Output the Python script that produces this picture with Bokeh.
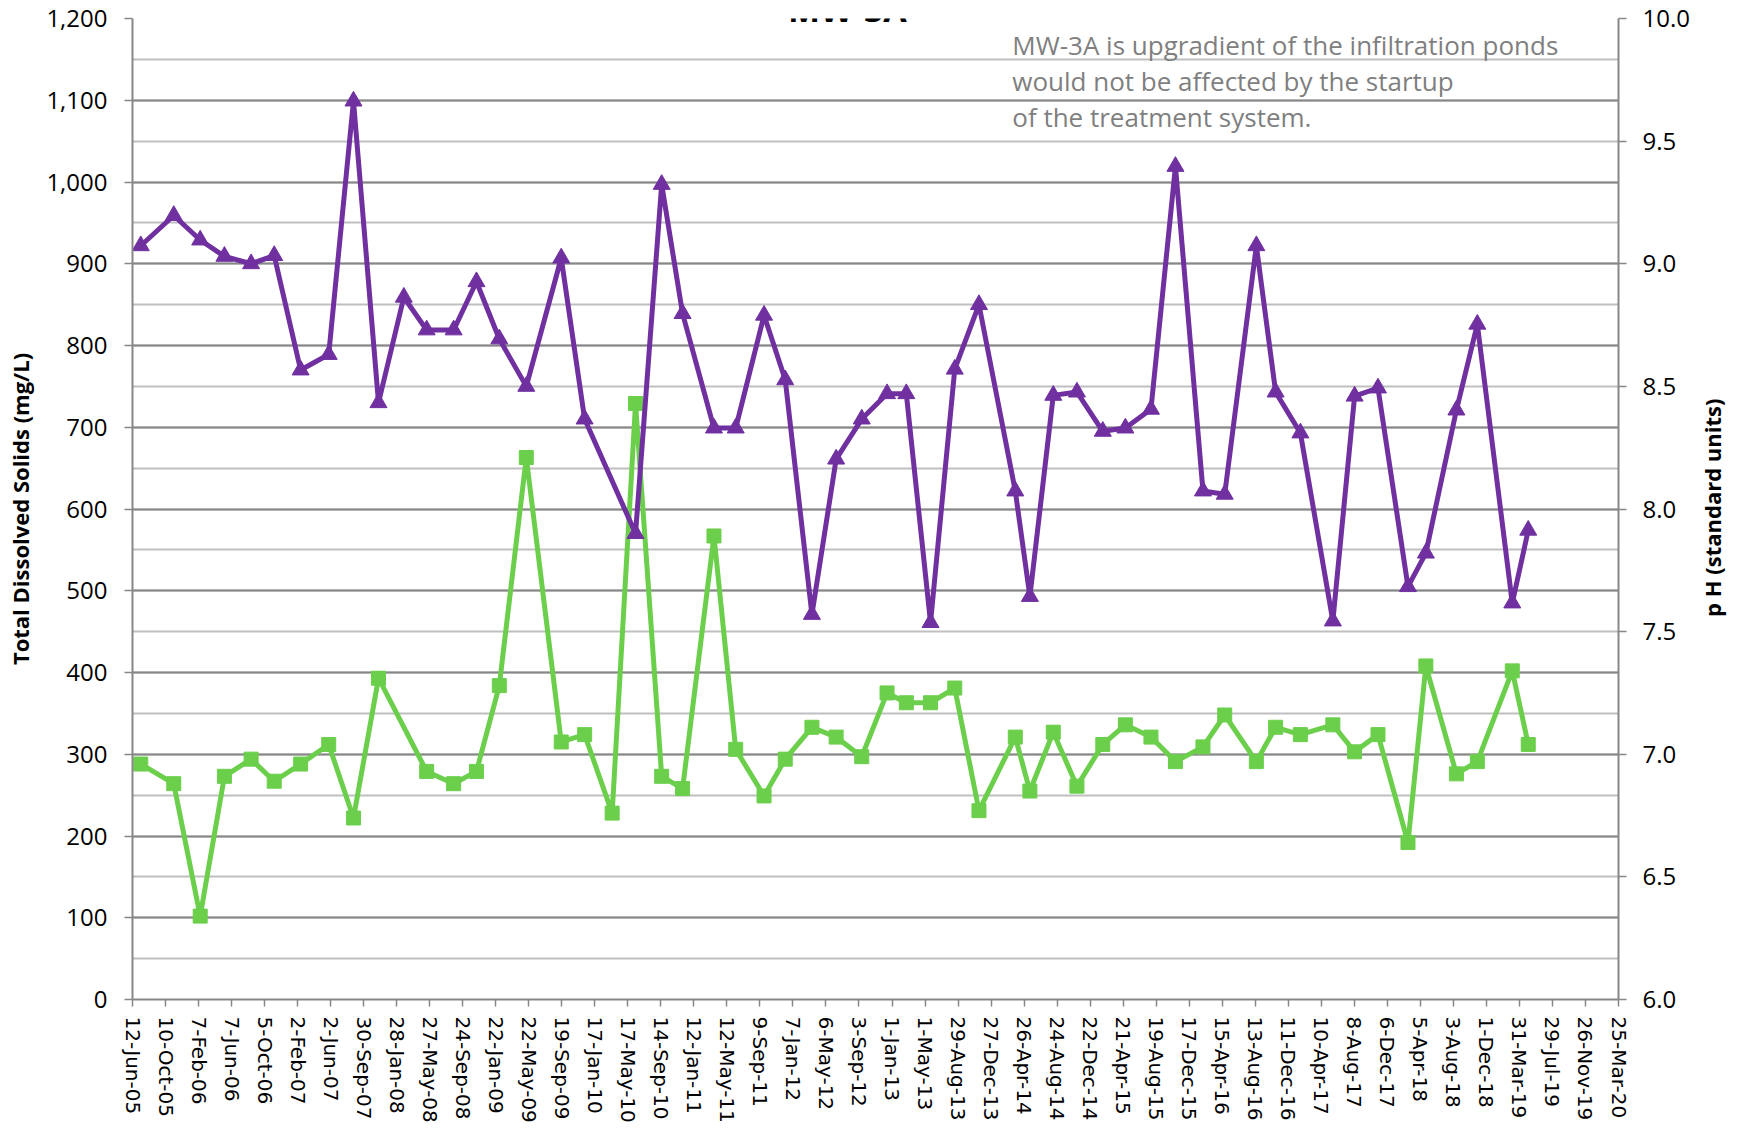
import math
import pandas as pd
from bokeh.plotting import figure
from bokeh.models import (Range1d, LinearAxis, FixedTicker, SingleIntervalTicker,
                          NumeralTickFormatter, Label)
from bokeh.embed import file_html
from bokeh.resources import INLINE

# ---------------- data ----------------
title_text = "MW-3A"
note_lines = [
    "MW-3A is upgradient of the infiltration ponds",
    "would not be affected by the startup",
    "of the treatment system.",
]
left_label = "Total Dissolved Solids (mg/L)"
right_label = "p H (standard units)"

tick_labels = [
    "12-Jun-05", "10-Oct-05", "7-Feb-06", "7-Jun-06", "5-Oct-06", "2-Feb-07",
    "2-Jun-07", "30-Sep-07", "28-Jan-08", "27-May-08", "24-Sep-08", "22-Jan-09",
    "22-May-09", "19-Sep-09", "17-Jan-10", "17-May-10", "14-Sep-10", "12-Jan-11",
    "12-May-11", "9-Sep-11", "7-Jan-12", "6-May-12", "3-Sep-12", "1-Jan-13",
    "1-May-13", "29-Aug-13", "27-Dec-13", "26-Apr-14", "24-Aug-14", "22-Dec-14",
    "21-Apr-15", "19-Aug-15", "17-Dec-15", "15-Apr-16", "13-Aug-16", "11-Dec-16",
    "10-Apr-17", "8-Aug-17", "6-Dec-17", "5-Apr-18", "3-Aug-18", "1-Dec-18",
    "31-Mar-19", "29-Jul-19", "26-Nov-19", "25-Mar-20",
]

tds_dates = [
    "2005-07-12", "2005-11-09", "2006-02-13", "2006-05-12", "2006-08-17", "2006-11-09",
    "2007-02-13", "2007-05-26", "2007-08-24", "2007-11-23", "2008-02-23", "2008-05-16",
    "2008-08-22", "2008-11-13", "2009-02-04", "2009-05-13", "2009-09-17", "2009-12-11",
    "2010-06-14", "2010-09-17", "2010-12-02", "2011-03-26", "2011-06-13", "2011-09-24",
    "2011-12-10", "2012-03-16", "2012-06-12", "2012-09-13", "2012-12-14", "2013-02-22",
    "2013-05-21", "2013-08-17", "2013-11-13", "2014-03-25", "2014-05-17", "2014-08-10",
    "2014-11-04", "2015-02-06", "2015-04-29", "2015-07-31", "2015-10-28", "2016-02-05",
    "2016-04-24", "2016-08-17", "2016-10-26", "2017-01-24", "2017-05-22", "2017-08-09",
    "2017-11-02", "2018-02-19", "2018-04-25", "2018-08-14", "2018-10-29", "2019-03-05",
    "2019-05-02",
]
tds_values = [
    922, 959, 929, 909, 900, 910, 770, 789, 1099, 730, 859, 819,
    819, 878, 808, 750, 907, 710, 570, 997, 839, 699, 699, 837,
    758, 471, 661, 710, 741, 741, 461, 771, 850, 622, 493, 739,
    743, 695, 699, 722, 1019, 622, 618, 922, 743, 693, 463, 738,
    748, 505, 546, 721, 826, 485, 574,
]

ph_dates = [
    "2005-07-12", "2005-11-09", "2006-02-13", "2006-05-12", "2006-08-17", "2006-11-09",
    "2007-02-13", "2007-05-26", "2007-08-24", "2007-11-23", "2008-05-16",
    "2008-08-22", "2008-11-13", "2009-02-04", "2009-05-13", "2009-09-17", "2009-12-11",
    "2010-03-21", "2010-06-14", "2010-09-17", "2010-12-02", "2011-03-26", "2011-06-13",
    "2011-09-24", "2011-12-10", "2012-03-16", "2012-06-12", "2012-09-13", "2012-12-14",
    "2013-02-22", "2013-05-21", "2013-08-17", "2013-11-13", "2014-03-25", "2014-05-17",
    "2014-08-10", "2014-11-04", "2015-02-06", "2015-04-29", "2015-07-31", "2015-10-28",
    "2016-02-05", "2016-04-24", "2016-08-17", "2016-10-26", "2017-01-24", "2017-05-22",
    "2017-08-09", "2017-11-02", "2018-02-19", "2018-04-25", "2018-08-14", "2018-10-29",
    "2019-03-05", "2019-05-02",
]
ph_values = [
    6.96, 6.88, 6.34, 6.91, 6.98, 6.89, 6.96, 7.04, 6.74, 7.31, 6.93,
    6.88, 6.93, 7.28, 8.21, 7.05, 7.08, 6.76, 8.43, 6.91, 6.86, 7.89,
    7.02, 6.83, 6.98, 7.11, 7.07, 6.99, 7.25, 7.21, 7.21, 7.27, 6.77,
    7.07, 6.85, 7.09, 6.87, 7.04, 7.12, 7.07, 6.97, 7.03, 7.16, 6.97,
    7.11, 7.08, 7.12, 7.01, 7.08, 6.64, 7.36, 6.92, 6.97, 7.34, 7.04,
]

# ---------------- styles ----------------
PURPLE = "#7030A0"
GREEN = "#6BCF4C"
GRID_DARK = "#878787"
GRID_LIGHT = "#BFBFBF"
LABEL_FONT = "Open Sans"
RIGHT_TITLE_ANCHOR = 468   # where the rotated right-hand title starts (left-axis units)

tick_ms = [int(t.value // 10**6) for t in pd.to_datetime(tick_labels, format="%d-%b-%y")]

def ms(date_str):
    return int(pd.Timestamp(date_str).value // 10**6)

p = figure(frame_width=1486, frame_height=981, x_axis_type="datetime",
           x_range=Range1d(tick_ms[0], tick_ms[-1]), y_range=Range1d(0, 1200),
           output_backend="svg", toolbar_location=None,
           min_border_left=132, min_border_right=118, min_border_top=18,
           min_border_bottom=128, background_fill_color="white",
           border_fill_color="white", outline_line_color=None)

p.extra_y_ranges = {"ph": Range1d(6.0, 10.0)}

# x axis
xa = p.xaxis[0]
xa.ticker = FixedTicker(ticks=tick_ms)
xa.major_label_overrides = dict(zip(tick_ms, tick_labels))
xa.major_label_orientation = "vertical"
xa.major_label_text_font = "DejaVu Sans"
xa.major_label_text_font_size = "20px"
xa.major_label_text_color = "black"
xa.major_label_standoff = 10
xa.major_tick_out = 7
xa.major_tick_in = 0
xa.minor_tick_line_color = None
xa.axis_line_color = GRID_DARK
xa.axis_line_width = 2
xa.major_tick_line_color = GRID_DARK
xa.major_tick_line_width = 1.5
p.xgrid.grid_line_color = None

# left axis
ya = p.yaxis[0]
ya.ticker = SingleIntervalTicker(interval=100, num_minor_ticks=2)
ya.formatter = NumeralTickFormatter(format="0,0")
ya.major_label_text_font = LABEL_FONT
ya.major_label_text_font_size = "24px"
ya.major_label_text_color = "black"
ya.major_label_standoff = 17
ya.major_tick_out = 8
ya.major_tick_in = 0
ya.minor_tick_line_color = None
ya.axis_line_color = GRID_DARK
ya.axis_line_width = 2
ya.major_tick_line_color = GRID_DARK
ya.major_tick_line_width = 1.5
ya.axis_label = left_label
ya.axis_label_text_font = LABEL_FONT
ya.axis_label_text_font_style = "bold"
ya.axis_label_text_font_size = "22px"
ya.axis_label_text_color = "black"
ya.axis_label_standoff = 8

p.ygrid.grid_line_color = GRID_DARK
p.ygrid.grid_line_width = 2
p.ygrid.minor_grid_line_color = GRID_LIGHT
p.ygrid.minor_grid_line_width = 2

# right axis (pH)
ra = LinearAxis(y_range_name="ph",
                ticker=SingleIntervalTicker(interval=0.5, num_minor_ticks=0),
                formatter=NumeralTickFormatter(format="0.0"))
ra.major_label_text_font = LABEL_FONT
ra.major_label_text_font_size = "24px"
ra.major_label_text_color = "black"
ra.major_label_standoff = 16
ra.major_tick_out = 8
ra.major_tick_in = 0
ra.minor_tick_line_color = None
ra.axis_line_color = GRID_DARK
ra.axis_line_width = 2
ra.major_tick_line_color = GRID_DARK
ra.major_tick_line_width = 1.5
p.add_layout(ra, "right")

# right-hand title, reading bottom to top (drawn as a rotated label of a bare axis)
rt = LinearAxis(ticker=FixedTicker(ticks=[RIGHT_TITLE_ANCHOR]),
                major_label_overrides={RIGHT_TITLE_ANCHOR: right_label},
                major_label_orientation=math.pi / 2)
rt.axis_line_color = None
rt.major_tick_line_color = None
rt.minor_tick_line_color = None
rt.major_tick_out = 0
rt.major_tick_in = 0
rt.major_label_standoff = 20
rt.major_label_text_font = LABEL_FONT
rt.major_label_text_font_style = "bold"
rt.major_label_text_font_size = "22px"
rt.major_label_text_color = "black"
p.add_layout(rt, "right")

# series
tds_x = pd.to_datetime(tds_dates)
ph_x = pd.to_datetime(ph_dates)

p.line(ph_x, ph_values, y_range_name="ph", line_color=GREEN, line_width=5)
p.scatter(ph_x, ph_values, y_range_name="ph", marker="square", size=14,
          fill_color=GREEN, line_color=GREEN)

p.line(tds_x, tds_values, line_color=PURPLE, line_width=5)
p.scatter(tds_x, tds_values, marker="triangle", size=17,
          fill_color=PURPLE, line_color=PURPLE)

# title (cut at the top edge as in the original)
p.add_layout(Label(x=ms("2012-07-23"), y=1212,
                   text=title_text, text_font=LABEL_FONT, text_font_style="bold",
                   text_font_size="34px", text_align="center",
                   text_baseline="alphabetic", text_color="black"))

# note
note_y = [1167, 1123, 1080]
note_x = ms("2014-03-14")
for line, yy in zip(note_lines, note_y):
    p.add_layout(Label(x=note_x, y=yy, text=line, text_font=LABEL_FONT,
                       text_font_size="26px", text_align="left",
                       text_baseline="middle", text_color="#7F7F7F"))

open("out.html", "w").write(file_html(p, INLINE))
